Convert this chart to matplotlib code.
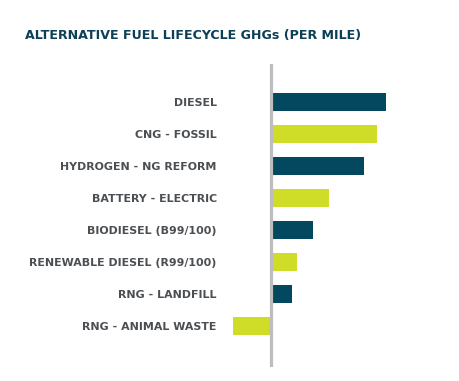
import matplotlib
matplotlib.use("Agg")
import matplotlib.pyplot as plt

# relative lifecycle GHGs per mile
fuels = ["DIESEL", "CNG - FOSSIL", "HYDROGEN - NG REFORM", "BATTERY - ELECTRIC",
         "BIODIESEL (B99/100)", "RENEWABLE DIESEL (R99/100)", "RNG - LANDFILL",
         "RNG - ANIMAL WASTE"]
ghg = [115, 106, 93, 58, 42, 26, 21, -38]

dark = "#03485f"
lime = "#cfdc28"
colors = [dark if i % 2 == 0 else lime for i in range(len(fuels))]

fig = plt.figure(figsize=(4.6, 3.81), dpi=100)
W, H = 460, 381
# axes placed in pixel terms: zero line at x~271, top 64px, bottom 367px
ax = fig.add_axes([230 / W, 1 - 367 / H, (414 - 230) / W, (367 - 64) / H])

ypos = list(range(len(fuels)))
ax.barh(ypos, ghg, height=0.56, color=colors, zorder=2)
ax.axvline(0, color="#bdbdbd", lw=2.3, zorder=3)

ax.set_xlim(-41.5, 142.5)
ax.set_ylim(len(fuels) - 1 + 1.28, -1.19)
ax.set_yticks(ypos)
ax.set_yticklabels(fuels, fontsize=7.9, fontweight="bold", color="#4b4f54")
ax.tick_params(axis="y", length=0, pad=9.5)
ax.set_xticks([])
for s in ax.spines.values():
    s.set_visible(False)

fig.text(25 / W, 1 - 39.5 / H, "ALTERNATIVE FUEL LIFECYCLE GHGs (PER MILE)",
         fontsize=9.1, fontweight="bold", color="#0d3f57", va="baseline", ha="left")

fig.savefig("out.png", dpi=100)
